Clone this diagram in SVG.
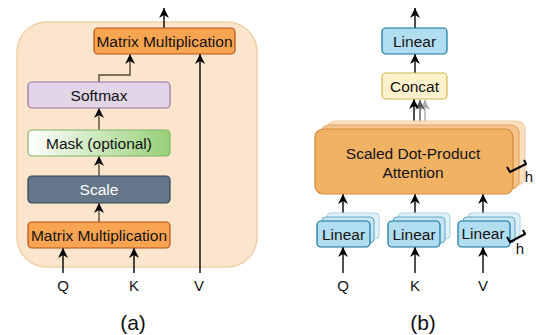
<svg xmlns="http://www.w3.org/2000/svg" width="536" height="335" viewBox="0 0 536 335">
  <style>
    text { font-family: "Liberation Sans", Arial, sans-serif; fill: #111; text-anchor: middle; dominant-baseline: central; }
    .lbl { font-size: 15.5px; }
    .io { font-size: 15px; }
    .cap { font-size: 21px; }
    .h { font-size: 15px; }
    .wire { fill: none; stroke: #000; stroke-width: 1.4; }
    .inner { fill: none; stroke: #5b4a3a; stroke-width: 1.4; }
    .mm { fill: #f9a451; stroke: #b5511d; stroke-width: 1.2; }
    .lin { fill: #b1ddf0; stroke: #10739e; stroke-width: 1.2; }
    .brace { fill: none; stroke: #000; stroke-width: 2; stroke-linejoin: round; }
  </style>
  <defs>
    <marker id="arr" viewBox="0 0 10 10" refX="10" refY="5" markerWidth="10" markerHeight="10" markerUnits="userSpaceOnUse" orient="auto">
      <path d="M0,0 L10,5 L0,10 L3,5 Z" fill="#000"/>
    </marker>
    <marker id="arrDark" viewBox="0 0 10 10" refX="10" refY="5" markerWidth="10" markerHeight="10" markerUnits="userSpaceOnUse" orient="auto">
      <path d="M0,0 L10,5 L0,10 L3,5 Z" fill="#555"/>
    </marker>
    <marker id="arrLight" viewBox="0 0 10 10" refX="10" refY="5" markerWidth="10" markerHeight="10" markerUnits="userSpaceOnUse" orient="auto">
      <path d="M0,0 L10,5 L0,10 L3,5 Z" fill="#aaa"/>
    </marker>
    <linearGradient id="maskGrad" x1="0" y1="0" x2="1" y2="0">
      <stop offset="0" stop-color="#ffffff"/>
      <stop offset="1" stop-color="#97d077"/>
    </linearGradient>
  </defs>

  <!-- (a) Scaled dot-product attention -->
  <g id="a-frame">
    <rect x="17" y="22" width="240" height="245" rx="30" fill="#fbe5cd" stroke="#f0d0a6" stroke-width="1.5"/>
  </g>

  <g id="a-connectors">
    <line class="wire" x1="164" y1="28" x2="164" y2="8" marker-end="url(#arr)"/>
    <polyline class="inner" points="99,82 99,75 130,75 130,54" marker-end="url(#arr)"/>
    <line class="wire" x1="200" y1="273" x2="200" y2="54" marker-end="url(#arr)"/>
    <line class="inner" x1="99" y1="130" x2="99" y2="108" marker-end="url(#arr)"/>
    <line class="inner" x1="99" y1="176" x2="99" y2="156" marker-end="url(#arr)"/>
    <line class="inner" x1="99" y1="222" x2="99" y2="203" marker-end="url(#arr)"/>
    <line class="wire" x1="63" y1="273" x2="63" y2="248" marker-end="url(#arr)"/>
    <line class="wire" x1="134" y1="273" x2="134" y2="248" marker-end="url(#arr)"/>
  </g>

  <g id="a-matmul-top">
    <rect class="mm" x="94" y="28" width="141" height="26" rx="4"/>
    <text class="lbl" x="164.5" y="41">Matrix Multiplication</text>
  </g>
  <g id="a-softmax">
    <rect x="28" y="82" width="142" height="26" rx="4" fill="#e1d5e7" stroke="#9673a6" stroke-width="1.2"/>
    <text class="lbl" x="99" y="95">Softmax</text>
  </g>
  <g id="a-mask">
    <rect x="28" y="130" width="142" height="26" rx="4" fill="url(#maskGrad)" stroke="#82b366" stroke-width="1.2"/>
    <text class="lbl" x="99" y="143">Mask (optional)</text>
  </g>
  <g id="a-scale">
    <rect x="28" y="176" width="142" height="27" rx="4" fill="#647687" stroke="#314354" stroke-width="1.2"/>
    <text class="lbl" x="99" y="189.5" style="fill:#ffffff">Scale</text>
  </g>
  <g id="a-matmul-bottom">
    <rect class="mm" x="28" y="222" width="142" height="26" rx="4"/>
    <text class="lbl" x="99" y="235">Matrix Multiplication</text>
  </g>
  <g id="a-inputs">
    <text class="io" x="63" y="285">Q</text>
    <text class="io" x="134" y="285">K</text>
    <text class="io" x="199" y="285">V</text>
  </g>
  <text class="cap" x="133" y="322">(a)</text>

  <!-- (b) Multi-head attention -->
  <g id="b-connectors">
    <line class="wire" x1="415" y1="28" x2="415" y2="8" marker-end="url(#arr)"/>
    <line class="wire" x1="415" y1="73" x2="415" y2="54" marker-end="url(#arr)"/>
    <line x1="425" y1="121" x2="425" y2="100" stroke="#aaa" stroke-width="1.4" marker-end="url(#arrLight)"/>
    <line x1="420" y1="125" x2="420" y2="100" stroke="#555" stroke-width="1.4" marker-end="url(#arrDark)"/>
    <line class="wire" x1="414" y1="129" x2="414" y2="99" marker-end="url(#arr)"/>
    <line class="wire" x1="343" y1="221" x2="343" y2="194" marker-end="url(#arr)"/>
    <line class="wire" x1="415" y1="221" x2="415" y2="194" marker-end="url(#arr)"/>
    <line class="wire" x1="483" y1="221" x2="483" y2="194" marker-end="url(#arr)"/>
    <line class="wire" x1="343" y1="273" x2="343" y2="247" marker-end="url(#arr)"/>
    <line class="wire" x1="415" y1="273" x2="415" y2="247" marker-end="url(#arr)"/>
    <line class="wire" x1="483" y1="273" x2="483" y2="247" marker-end="url(#arr)"/>
  </g>

  <g id="b-linear-out">
    <rect class="lin" x="382" y="28" width="65" height="26" rx="4"/>
    <text class="lbl" x="414.5" y="41">Linear</text>
  </g>
  <g id="b-concat">
    <rect x="382" y="73" width="65" height="26" rx="4" fill="#fff2cc" stroke="#d6b656" stroke-width="1.2"/>
    <text class="lbl" x="414.5" y="86">Concat</text>
  </g>

  <g id="b-attention">
    <rect x="327" y="121" width="198" height="64" rx="8" fill="#fbe0c0" stroke="#f2cba0" stroke-width="1.2"/>
    <rect x="321" y="125" width="198" height="64" rx="8" fill="#f5c48a" stroke="#e2a362" stroke-width="1.2"/>
    <rect x="315" y="129" width="198" height="65" rx="8" fill="#f2b264" stroke="#d48a3a" stroke-width="1.2"/>
    <text class="lbl" x="413" y="153">Scaled Dot-Product</text>
    <text class="lbl" x="413" y="172">Attention</text>
    <path class="brace" d="M507,167 L510,172 L526,164 L524,160"/>
    <text class="h" x="529" y="176">h</text>
  </g>

  <g id="b-linear-q">
    <rect x="327" y="213" width="52" height="26" rx="4" fill="#e1f1f8" stroke="#a8d2e6" stroke-width="1"/>
    <rect x="322" y="217" width="52" height="26" rx="4" fill="#c7e6f4" stroke="#5fa6c8" stroke-width="1"/>
    <rect class="lin" x="317" y="221" width="53" height="26" rx="4"/>
    <text class="lbl" x="343.5" y="234">Linear</text>
  </g>
  <g id="b-linear-k">
    <rect x="398" y="213" width="52" height="26" rx="4" fill="#e1f1f8" stroke="#a8d2e6" stroke-width="1"/>
    <rect x="393" y="217" width="52" height="26" rx="4" fill="#c7e6f4" stroke="#5fa6c8" stroke-width="1"/>
    <rect class="lin" x="388" y="221" width="52" height="26" rx="4"/>
    <text class="lbl" x="414" y="234">Linear</text>
  </g>
  <g id="b-linear-v">
    <rect x="468" y="213" width="52" height="26" rx="4" fill="#e1f1f8" stroke="#a8d2e6" stroke-width="1"/>
    <rect x="463" y="217" width="52" height="26" rx="4" fill="#c7e6f4" stroke="#5fa6c8" stroke-width="1"/>
    <rect class="lin" x="458" y="221" width="52" height="26" rx="4"/>
    <text class="lbl" x="483" y="233">Linear</text>
    <path class="brace" d="M507,237 L510,242 L525,234 L523,230"/>
    <text class="h" x="520" y="248">h</text>
  </g>

  <g id="b-inputs">
    <text class="io" x="343" y="285">Q</text>
    <text class="io" x="415" y="285">K</text>
    <text class="io" x="483" y="285">V</text>
  </g>
  <text class="cap" x="423" y="322">(b)</text>
</svg>
